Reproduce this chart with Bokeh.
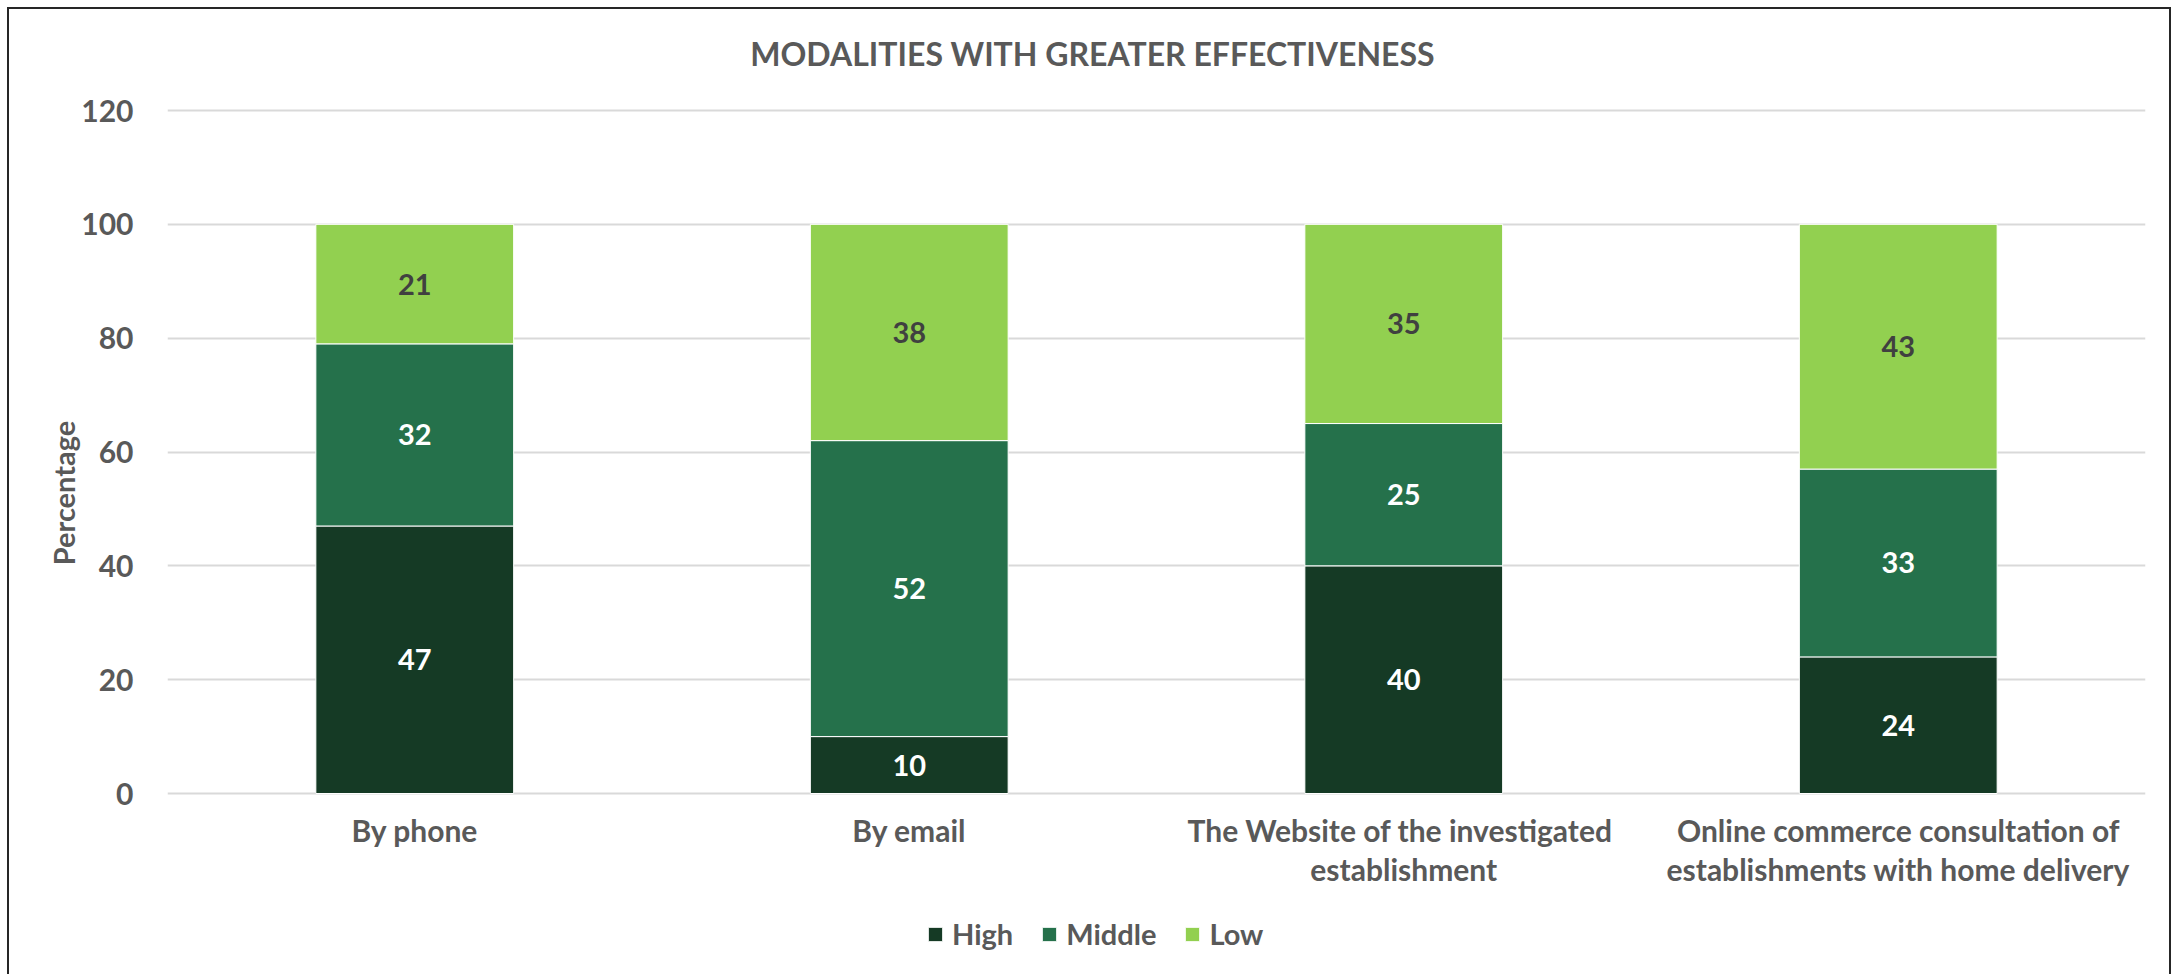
from bokeh.plotting import figure
from bokeh.models import (ColumnDataSource, Legend, LegendItem, Label,
                          FactorRange, Range1d, FixedTicker)
from bokeh.core.properties import value
from bokeh.embed import file_html
from bokeh.resources import INLINE

# ---- data ----
categories = [
    "By phone",
    "By email",
    "The  Website of the investigated\nestablishment",
    "Online commerce consultation of\nestablishments with home delivery",
]
levels = ["High", "Middle", "Low"]
high = [47, 10, 40, 24]
middle = [32, 52, 25, 33]
low = [21, 38, 35, 43]
y_ticks = [0, 20, 40, 60, 80, 100, 120]
title_text = "MODALITIES WITH GREATER EFFECTIVENESS"

colors = {"High": "#153A25", "Middle": "#25714B", "Low": "#92D050"}
label_colors = {"High": "#FFFFFF", "Middle": "#FFFFFF", "Low": "#404040"}
FONT = "Lato"
GRAY = "#595959"

# ---- geometry (pixels) ----
W, H = 2164, 967          # canvas
LEFT, RIGHT = 158, 28     # room for the y axis / right margin
PLOT_TOP, PLOT_BOTTOM = 101, 784   # canvas rows of the value 120 and of 0
PX = (PLOT_BOTTOM - PLOT_TOP) / 120.0
# the frame spans the whole canvas height; the value range is widened so that
# 0..120 lands on the rows above, leaving room for title, labels and legend
Y_HI = 120 + PLOT_TOP / PX
Y_LO = -(H - PLOT_BOTTOM) / PX

p = figure(
    width=W, height=H, title=None,
    x_range=FactorRange(*categories, range_padding=0),
    y_range=Range1d(Y_LO, Y_HI),
    x_axis_location=None,
    output_backend="svg", toolbar_location=None,
    min_border_left=LEFT, min_border_right=RIGHT,
    min_border_top=0, min_border_bottom=0,
    styles={"margin-left": "7px", "margin-top": "7px",
            "border-left": "2px solid #262626", "border-top": "2px solid #262626",
            "border-right": "2px solid #262626"},
)
p.outline_line_color = None
p.background_fill_color = "white"
p.border_fill_color = "white"

# ---- stacked bars ----
source = ColumnDataSource(dict(cat=categories, High=high, Middle=middle, Low=low))
renderers = p.vbar_stack(
    levels, x="cat", width=0.4, source=source,
    color=[colors[k] for k in levels], line_color="white", line_width=1,
)

# ---- segment value labels ----
series = {"High": high, "Middle": middle, "Low": low}
base = [0] * len(categories)
for lvl in levels:
    vals = series[lvl]
    mids = [b + v / 2 for b, v in zip(base, vals)]
    lab_src = ColumnDataSource(dict(cat=categories, y=mids, txt=[str(v) for v in vals]))
    p.text(x="cat", y="y", text="txt", source=lab_src,
           text_align="center", text_baseline="middle",
           text_font=value(FONT), text_font_style="bold",
           text_font_size="29px", text_color=label_colors[lvl])
    base = [b + v for b, v in zip(base, vals)]

# ---- category labels under the bars ----
cat_src = ColumnDataSource(dict(cat=categories, y=[-18 / PX] * len(categories)))
p.text(x="cat", y="y", text="cat", source=cat_src,
       text_align="center", text_baseline="top", text_line_height=1.1,
       text_font=value(FONT), text_font_style="bold",
       text_font_size="30px", text_color=GRAY)

# ---- y axis ----
p.yaxis.ticker = FixedTicker(ticks=y_ticks)
p.yaxis.bounds = (0, 120)
p.yaxis.axis_line_color = None
p.yaxis.major_tick_line_color = None
p.yaxis.minor_tick_line_color = None
p.yaxis.major_label_standoff = 28
p.yaxis.major_label_text_font = FONT
p.yaxis.major_label_text_font_style = "bold"
p.yaxis.major_label_text_font_size = "30px"
p.yaxis.major_label_text_color = GRAY
p.yaxis.axis_label = "Percentage"
p.yaxis.axis_label_text_font = FONT
p.yaxis.axis_label_text_font_style = "bold"
p.yaxis.axis_label_text_font_size = "29px"
p.yaxis.axis_label_text_color = GRAY
p.yaxis.axis_label_standoff = -3

p.xgrid.grid_line_color = None
p.ygrid.grid_line_color = "#D9D9D9"
p.ygrid.grid_line_width = 2

# ---- title ----
p.add_layout(Label(
    x=925, y=H - 44, x_units="screen", y_units="screen",
    text=title_text, text_align="center", text_baseline="middle",
    text_font=FONT, text_font_style="bold", text_font_size="32px", text_color=GRAY,
))

# ---- legend ----
legend = Legend(
    items=[LegendItem(label=lvl, renderers=[r]) for lvl, r in zip(levels, renderers)],
    orientation="horizontal", location=(759, 25),
    glyph_width=18, glyph_height=18, label_standoff=8, spacing=27,
    label_text_font=FONT, label_text_font_style="bold", label_text_font_size="29px",
    label_text_color=GRAY, border_line_color=None, background_fill_alpha=0,
    padding=0, margin=0,
)
p.add_layout(legend)

open("out.html", "w").write(file_html(p, INLINE))
